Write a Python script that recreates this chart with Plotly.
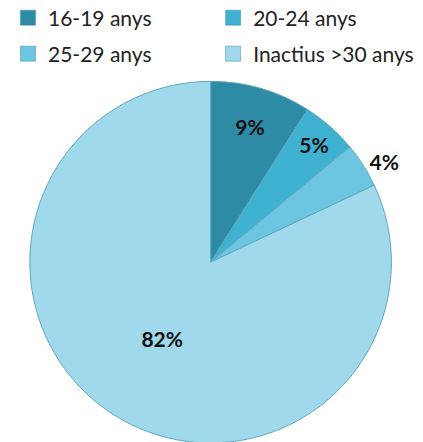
import plotly.graph_objects as go

labels = ["16-19 anys", "20-24 anys", "25-29 anys", "Inactius >30 anys"]
values = [9, 5, 4, 82]
colors = ["#2e8ba6", "#3fb1d1", "#6cc6e1", "#9fd9eb"]
positions = ["inside", "inside", "outside", "inside"]

fig = go.Figure()

fig.add_trace(go.Pie(
    labels=labels,
    values=values,
    sort=False,
    direction="clockwise",
    rotation=0,
    domain=dict(x=[0, 0.958], y=[0.016, 0.834]),
    marker=dict(colors=colors, line=dict(color="#5fa9c0", width=1)),
    texttemplate="<b>%{percent:.0%}</b>",
    textposition=positions,
    insidetextorientation="horizontal",
    textfont=dict(family="Lato, Open Sans, sans-serif", size=21, color="#111111"),
    hoverinfo="label+percent",
    showlegend=False,
))

# one legend box per entry, laid out 2 x 2 like the original
legend_ids = ["legend", "legend2", "legend3", "legend4"]
legend_pos = [(0.0, 10), (0.485, 10), (0.0, 46), (0.485, 46)]
for lab, col, lid in zip(labels, colors, legend_ids):
    fig.add_trace(go.Scatter(
        x=[None], y=[None], mode="markers", name=lab,
        marker=dict(symbol="square", size=15, color=col,
                    line=dict(color="#3a8aa3", width=0.5)),
        legend=lid,
    ))

leg = dict(xanchor="left", yanchor="middle", xref="container", yref="container",
           itemwidth=30, font=dict(size=21), bgcolor="rgba(0,0,0,0)")
legends = {lid: dict(leg, x=px, y=1 - py / 442)
           for lid, (px, py) in zip(legend_ids, legend_pos)}

fig.update_layout(
    width=423, height=442,
    margin=dict(l=0, r=0, t=0, b=0, autoexpand=False),
    paper_bgcolor="white",
    plot_bgcolor="white",
    font=dict(family="Lato, Open Sans, sans-serif", size=21, color="#222222"),
    xaxis=dict(visible=False),
    yaxis=dict(visible=False),
    **legends,
)

fig.write_html("out.html")
